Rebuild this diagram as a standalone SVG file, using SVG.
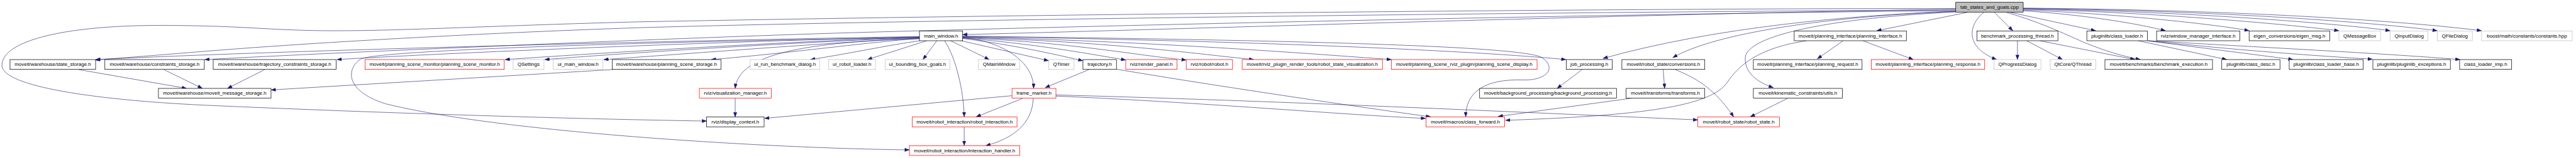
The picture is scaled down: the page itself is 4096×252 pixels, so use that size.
<svg xmlns="http://www.w3.org/2000/svg" width="4096" height="252" viewBox="0 0 4096 252">
<style>
rect.b{fill:#fff;stroke:#000;stroke-width:1.2}
rect.g{fill:#fff;stroke:#bfbfbf;stroke-width:1.2}
rect.r{fill:#fff;stroke:#f00;stroke-width:1.2}
rect.root{fill:#bfbfbf;stroke:#000;stroke-width:1.2}
text{font-family:"Liberation Sans",Arial,sans-serif;font-size:13px;fill:#000;text-anchor:middle}
#edges path{fill:none;stroke:#191970;stroke-width:1;marker-end:url(#a)}
</style>
<defs>
<marker id="a" markerUnits="userSpaceOnUse" markerWidth="13" markerHeight="9" viewBox="0 0 12 9" refX="12" refY="4.5" orient="auto"><path d="M0,0L12,4.5L0,9z" fill="#191970" stroke="#191970" stroke-width="0.5"/></marker>
</defs>
<rect width="4096" height="252" fill="#fff"/>
<g transform="scale(0.613)">
<g id="edges">
<path d="M5073,24 C4300,35 3000,78 2497,90"/>
<path d="M5073,22 C4200,22 2600,38 1650,57 C1300,66 1050,80 871,80 C700,80 650,67 420,66 C150,66 5,110 5,170 C5,225 250,262 560,275 C900,290 1400,308 1833,315"/>
<path d="M5073,26 C4200,30 2400,50 1660,72 C1300,84 850,108 550,132 C450,140 330,150 247,156"/>
<path d="M5073,28 C4200,35 2800,68 2210,85 C1800,97 900,135 531,155"/>
<path d="M2385,95 C1900,103 800,128 248,155"/>
<path d="M2385,96 C2000,104 1200,135 874,155"/>
<path d="M2385,97 C2100,105 1600,135 1310,155"/>
<path d="M2385,98 C2150,106 1700,132 1413,155"/>
<path d="M2385,99 C2200,108 1850,135 1566,155"/>
<path d="M2385,100 C2250,110 2050,138 1845,155"/>
<path d="M2385,101 C2050,110 1915,150 1907,230"/>
<path d="M2386,106 C2300,118 2200,140 2102,155"/>
<path d="M2404,106 L2250,155"/>
<path d="M2430,106 L2394,155"/>
<path d="M2450,106 C2480,150 2500,240 2501,304"/>
<path d="M2466,106 L2566,155"/>
<path d="M2493,106 L2720,158"/>
<path d="M2497,97 C2600,108 2682,160 2681,230"/>
<path d="M2497,100 C2650,120 2750,145 2809,158"/>
<path d="M2497,99 C2700,115 2850,145 2920,156"/>
<path d="M2497,98 C2800,112 2950,145 3077,156"/>
<path d="M2497,97 C2900,110 3100,140 3252,155"/>
<path d="M2497,96 C3000,108 3400,140 3609,155"/>
<path d="M2497,95 C3200,105 3800,130 4062,155"/>
<path d="M2497,94 C3300,104 3950,118 4000,150 C4040,178 4010,210 3950,208 C3850,205 3802,240 3802,304"/>
<path d="M2385,98 C1800,106 1000,128 937,153 C900,175 890,235 1000,270 C1300,345 2000,386 2359,390"/>
<path d="M5073,29 C4800,40 4450,70 4158,152"/>
<path d="M5073,30 C4750,42 4450,85 4339,150"/>
<path d="M5073,31 C4700,50 4530,100 4527,150 C4525,190 4560,215 4600,228"/>
<path d="M5104,32 L4868,80"/>
<path d="M4781,106 L4714,153"/>
<path d="M4832,106 L4963,155"/>
<path d="M4686,106 C4560,125 4510,170 4480,215 C4440,270 4300,300 3905,313"/>
<path d="M4314,181 L4318,230"/>
<path d="M4345,181 C4420,210 4460,250 4497,304"/>
<path d="M4236,255 L3886,303"/>
<path d="M2739,247 C3300,262 3900,290 4404,312"/>
<path d="M2739,250 C3100,265 3500,300 3698,308"/>
<path d="M2896,180 C3100,215 3500,275 3711,304"/>
<path d="M2825,181 L2711,228"/>
<path d="M1907,255.5 L1907,304.5"/>
<path d="M2625,249 L1983,308"/>
<path d="M2653,256 L2532,304"/>
<path d="M2680,256 C2678,320 2630,360 2557,379"/>
<path d="M2501,330 L2501,379"/>
<path d="M1590,181 L703,234"/>
<path d="M204,181 L484,230"/>
<path d="M425,181 L525,230"/>
<path d="M687,181 L590,230"/>
<path d="M4104,181 L4039,230"/>
<path d="M4637,256 L4540,304"/>
<path d="M5146,32 C5110,60 5090,120 5179,155"/>
<path d="M5173,32 L5221,80"/>
<path d="M5233,106 L5233,155"/>
<path d="M5257,106 L5350,155"/>
<path d="M5291,106 L5538,155"/>
<path d="M5204,32 C5300,60 5370,95 5410,112 C5460,132 5500,145 5552,155"/>
<path d="M5214,32 L5436,80"/>
<path d="M5546,106 L5776,155"/>
<path d="M5569,106 L5948,155"/>
<path d="M5572,106 C5800,130 6000,145 6154,154"/>
<path d="M5573,106 C5900,125 6200,140 6381,155"/>
<path d="M5248,28 C5400,38 5540,60 5617,80"/>
<path d="M5248,26 C5500,36 5760,65 5834,80"/>
<path d="M5248,24 C5600,32 5960,66 6067,80"/>
<path d="M5248,23 C5700,30 6100,65 6200,80"/>
<path d="M5248,22 C5800,28 6200,63 6322,80"/>
<path d="M5248,21 C5900,27 6300,62 6437,80"/>
</g>
<g id="n_tab"><rect class="root" x="5073" y="6" width="175" height="25.5"/><text x="5160.5" y="23">tab_states_and_goals.cpp</text></g>
<g id="n_mw"><rect class="b" x="2385" y="80.5" width="112" height="25.5"/><text x="2441" y="97.5">main_window.h</text></g>
<g id="n_pi"><rect class="b" x="4654" y="80.5" width="291" height="25.5"/><text x="4799.5" y="97.5">moveit/planning_interface/planning_interface.h</text></g>
<g id="n_bpt"><rect class="b" x="5128" y="80.5" width="210" height="25.5"/><text x="5233" y="97.5">benchmark_processing_thread.h</text></g>
<g id="n_cl"><rect class="b" x="5413" y="80.5" width="157" height="25.5"/><text x="5491.5" y="97.5">pluginlib/class_loader.h</text></g>
<g id="n_wmi"><rect class="b" x="5594" y="80.5" width="216" height="25.5"/><text x="5702" y="97.5">rviz/window_manager_interface.h</text></g>
<g id="n_eig"><rect class="b" x="5834" y="80.5" width="209" height="25.5"/><text x="5938.5" y="97.5">eigen_conversions/eigen_msg.h</text></g>
<g id="n_qmb"><rect class="g" x="6067" y="80.5" width="108" height="25.5"/><text x="6121" y="97.5">QMessageBox</text></g>
<g id="n_qid"><rect class="g" x="6200" y="80.5" width="98" height="25.5"/><text x="6249" y="97.5">QInputDialog</text></g>
<g id="n_qfd"><rect class="g" x="6322" y="80.5" width="91" height="25.5"/><text x="6367.5" y="97.5">QFileDialog</text></g>
<g id="n_boost"><rect class="g" x="6437" y="80.5" width="235" height="25.5"/><text x="6554.5" y="97.5">boost/math/constants/constants.hpp</text></g>
<g id="n_ss"><rect class="b" x="26" y="155" width="222" height="25.5"/><text x="137" y="172">moveit/warehouse/state_storage.h</text></g>
<g id="n_cs"><rect class="b" x="272" y="155" width="258" height="25.5"/><text x="401" y="172">moveit/warehouse/constraints_storage.h</text></g>
<g id="n_tcs"><rect class="b" x="553" y="155" width="319" height="25.5"/><text x="712.5" y="172">moveit/warehouse/trajectory_constraints_storage.h</text></g>
<g id="n_psm"><rect class="r" x="947" y="155" width="361" height="25.5"/><text x="1127.5" y="172">moveit/planning_scene_monitor/planning_scene_monitor.h</text></g>
<g id="n_qset"><rect class="g" x="1331" y="155" width="80" height="25.5"/><text x="1371" y="172">QSettings</text></g>
<g id="n_uimw"><rect class="g" x="1435" y="155" width="129" height="25.5"/><text x="1499.5" y="172">ui_main_window.h</text></g>
<g id="n_pss"><rect class="b" x="1588" y="155" width="282" height="25.5"/><text x="1729" y="172">moveit/warehouse/planning_scene_storage.h</text></g>
<g id="n_uirb"><rect class="g" x="1946" y="155" width="180" height="25.5"/><text x="2036" y="172">ui_run_benchmark_dialog.h</text></g>
<g id="n_uirl"><rect class="g" x="2149" y="155" width="122" height="25.5"/><text x="2210" y="172">ui_robot_loader.h</text></g>
<g id="n_uibb"><rect class="g" x="2296" y="155" width="168" height="25.5"/><text x="2380" y="172">ui_bounding_box_goals.h</text></g>
<g id="n_qmw"><rect class="g" x="2538" y="155" width="107" height="25.5"/><text x="2591.5" y="172">QMainWindow</text></g>
<g id="n_qtimer"><rect class="g" x="2720" y="155" width="66" height="25.5"/><text x="2753" y="172">QTimer</text></g>
<g id="n_traj"><rect class="b" x="2809" y="155" width="87" height="25.5"/><text x="2852.5" y="172">trajectory.h</text></g>
<g id="n_rp"><rect class="r" x="2920" y="155" width="133" height="25.5"/><text x="2986.5" y="172">rviz/render_panel.h</text></g>
<g id="n_robot"><rect class="r" x="3077" y="155" width="120" height="25.5"/><text x="3137" y="172">rviz/robot/robot.h</text></g>
<g id="n_rsv"><rect class="r" x="3222" y="155" width="364" height="25.5"/><text x="3404" y="172">moveit/rviz_plugin_render_tools/robot_state_visualization.h</text></g>
<g id="n_psd"><rect class="r" x="3609" y="155" width="378" height="25.5"/><text x="3798" y="172">moveit/planning_scene_rviz_plugin/planning_scene_display.h</text></g>
<g id="n_job"><rect class="b" x="4063" y="155" width="119" height="25.5"/><text x="4122.5" y="172">job_processing.h</text></g>
<g id="n_conv"><rect class="b" x="4207" y="155" width="215" height="25.5"/><text x="4314.5" y="172">moveit/robot_state/conversions.h</text></g>
<g id="n_preq"><rect class="b" x="4548" y="155" width="282" height="25.5"/><text x="4689" y="172">moveit/planning_interface/planning_request.h</text></g>
<g id="n_presp"><rect class="r" x="4854" y="155" width="294" height="25.5"/><text x="5001" y="172">moveit/planning_interface/planning_response.h</text></g>
<g id="n_qpd"><rect class="g" x="5172" y="155" width="122" height="25.5"/><text x="5233" y="172">QProgressDialog</text></g>
<g id="n_qth"><rect class="g" x="5318" y="155" width="118" height="25.5"/><text x="5377" y="172">QtCore/QThread</text></g>
<g id="n_bex"><rect class="b" x="5460" y="155" width="279" height="25.5"/><text x="5599.5" y="172">moveit/benchmarks/benchmark_execution.h</text></g>
<g id="n_cdesc"><rect class="b" x="5763" y="155" width="151" height="25.5"/><text x="5838.5" y="172">pluginlib/class_desc.h</text></g>
<g id="n_clb"><rect class="b" x="5938" y="155" width="192" height="25.5"/><text x="6034" y="172">pluginlib/class_loader_base.h</text></g>
<g id="n_plex"><rect class="b" x="6155" y="155" width="201" height="25.5"/><text x="6255.5" y="172">pluginlib/pluginlib_exceptions.h</text></g>
<g id="n_climp"><rect class="b" x="6380" y="155" width="135" height="25.5"/><text x="6447.5" y="172">class_loader_imp.h</text></g>
<g id="n_mms"><rect class="b" x="411" y="230" width="292" height="25.5"/><text x="557" y="247">moveit/warehouse/moveit_message_storage.h</text></g>
<g id="n_vm"><rect class="r" x="1814" y="230" width="187" height="25.5"/><text x="1907.5" y="247">rviz/visualization_manager.h</text></g>
<g id="n_fm"><rect class="r" x="2625" y="230" width="114" height="25.5"/><text x="2682" y="247">frame_marker.h</text></g>
<g id="n_bgp"><rect class="b" x="3838" y="230" width="355" height="25.5"/><text x="4015.5" y="247">moveit/background_processing/background_processing.h</text></g>
<g id="n_tf"><rect class="b" x="4218" y="230" width="204" height="25.5"/><text x="4320" y="247">moveit/transforms/transforms.h</text></g>
<g id="n_kcu"><rect class="b" x="4548" y="230" width="231" height="25.5"/><text x="4663.5" y="247">moveit/kinematic_constraints/utils.h</text></g>
<g id="n_dc"><rect class="b" x="1833" y="304.5" width="149" height="25.5"/><text x="1907.5" y="321.5">rviz/display_context.h</text></g>
<g id="n_ri"><rect class="r" x="2366" y="304.5" width="272" height="25.5"/><text x="2502" y="321.5">moveit/robot_interaction/robot_interaction.h</text></g>
<g id="n_cf"><rect class="r" x="3699" y="304.5" width="204" height="25.5"/><text x="3801" y="321.5">moveit/macros/class_forward.h</text></g>
<g id="n_rs"><rect class="r" x="4404" y="304.5" width="212" height="25.5"/><text x="4510" y="321.5">moveit/robot_state/robot_state.h</text></g>
<g id="n_ih"><rect class="r" x="2359" y="379" width="286" height="25.5"/><text x="2502" y="396">moveit/robot_interaction/interaction_handler.h</text></g>
</g>
</svg>
